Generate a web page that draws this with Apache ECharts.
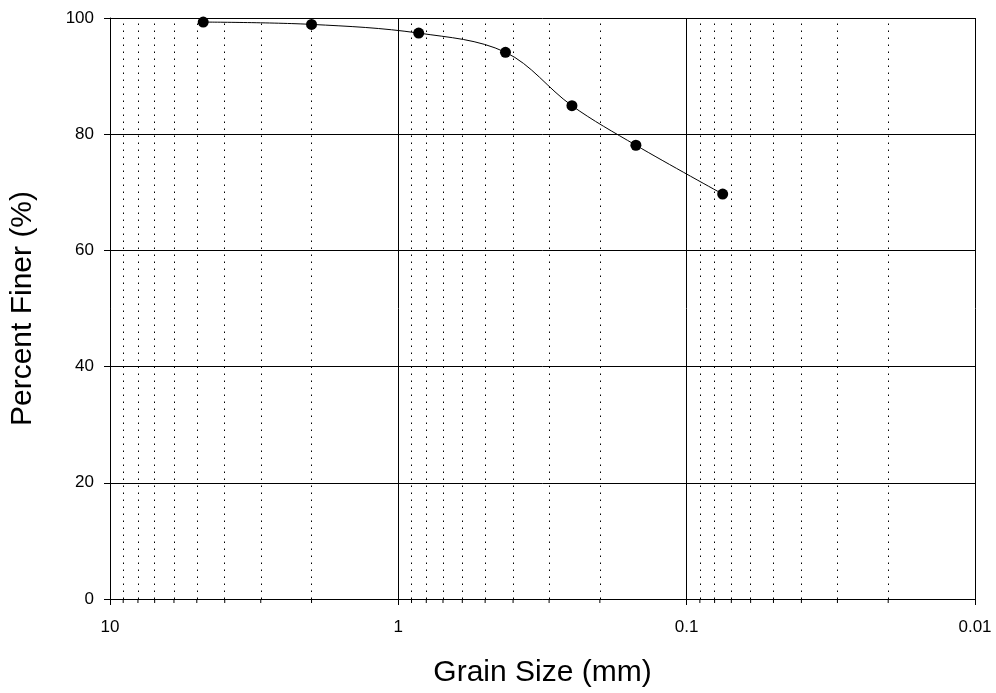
<!DOCTYPE html>
<html>
<head>
<meta charset="utf-8">
<script src="https://cdn.jsdelivr.net/npm/echarts@6/dist/echarts.min.js"></script>
<style>
html,body{margin:0;padding:0;background:#fff;}
#chart{width:996px;height:693px;}
</style>
</head>
<body>
<div id="chart"></div>
<script>
// Data
var grainSizes = [4.75, 2.0, 0.85, 0.425, 0.25, 0.15, 0.075];
var percentFiner = [99.3, 98.9, 97.4, 94.1, 84.9, 78.1, 69.7];
var minorGridValues = [9,8,7,6,5,4,3,2, 0.9,0.8,0.7,0.6,0.5,0.4,0.3,0.2, 0.09,0.08,0.07,0.06,0.05,0.04,0.03,0.02];
var yTicks = [0, 20, 40, 60, 80, 100];
var xLabel = 'Grain Size (mm)';
var yLabel = 'Percent Finer (%)';

var FONT = '"Liberation Sans", Arial, sans-serif';
var chart = echarts.init(document.getElementById('chart'), null, {renderer: 'canvas'});

var seriesData = grainSizes.map(function (g, i) { return [g, percentFiner[i]]; });
var minorTickData = minorGridValues.map(function (v) { return [v, 0]; });

var option = {
  animation: false,
  backgroundColor: '#ffffff',
  grid: {left: 108, right: 21, top: 18, bottom: 94, containLabel: false},
  xAxis: {
    type: 'log',
    logBase: 10,
    min: 0.01,
    max: 10,
    inverse: true,
    position: 'bottom',
    name: xLabel,
    nameLocation: 'middle',
    nameGap: 59,
    nameTextStyle: {fontFamily: FONT, fontSize: 30, color: '#000'},
    axisLine: {show: true, onZero: false, lineStyle: {color: '#000', width: 1}},
    axisTick: {show: true, inside: false, length: 6, lineStyle: {color: '#000', width: 1}},
    axisLabel: {
      show: true, margin: 20, color: '#000', fontFamily: FONT, fontSize: 17,
      formatter: function (v) { return String(v); }
    },
    splitLine: {show: true, lineStyle: {color: '#000', width: 1, type: 'solid'}},
    minorTick: {show: false},
    minorSplitLine: {show: false}
  },
  yAxis: {
    type: 'value',
    min: 0,
    max: 100,
    interval: 20,
    name: yLabel,
    nameLocation: 'middle',
    nameGap: 72,
    nameTextStyle: {fontFamily: FONT, fontSize: 30, color: '#000'},
    axisLine: {show: true, onZero: false, lineStyle: {color: '#000', width: 1}},
    axisTick: {show: true, inside: false, length: 6, lineStyle: {color: '#000', width: 1}},
    axisLabel: {
      show: true, margin: 16, color: '#000', fontFamily: FONT, fontSize: 17
    },
    splitLine: {show: true, lineStyle: {color: '#000', width: 1}}
  },
  series: [{
    type: 'line',
    data: seriesData,
    smooth: 0.35,
    symbol: 'circle',
    symbolSize: 11,
    showSymbol: true,
    itemStyle: {color: '#000'},
    lineStyle: {color: '#000', width: 1},
    markLine: {
      silent: true,
      symbol: ['none', 'none'],
      label: {show: false},
      animation: false,
      lineStyle: {color: '#000', width: 1, type: [1.5, 5.5], opacity: 1},
      emphasis: {disabled: true},
      data: minorGridValues.map(function (v) { return {xAxis: v}; })
    },
    z: 5
  }, {
    // minor tick marks below the x axis
    type: 'custom',
    data: minorTickData,
    clip: false,
    silent: true,
    z: 3,
    renderItem: function (params, api) {
      var p = api.coord([api.value(0), api.value(1)]);
      return {
        type: 'line',
        shape: {x1: p[0], y1: p[1], x2: p[0], y2: p[1] + 4},
        style: {stroke: '#000', lineWidth: 1}
      };
    }
  }]
};
chart.setOption(option);
</script>
</body>
</html>
